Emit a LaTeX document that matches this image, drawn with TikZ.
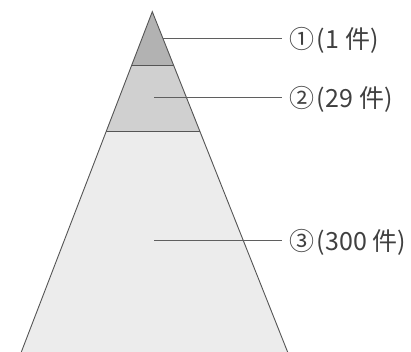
\documentclass[tikz,border=0pt]{standalone}
\usepackage{fontspec}
\newfontfamily\jp{Noto Sans CJK JP}
\definecolor{tierA}{RGB}{178,178,178}
\definecolor{tierB}{RGB}{208,208,208}
\definecolor{tierC}{RGB}{236,236,236}
\definecolor{edge}{RGB}{85,85,85}
\definecolor{lead}{RGB}{95,95,95}
\tikzset{
  tier/.style={draw=edge, line width=0.9pt},
  leader/.style={draw=lead, line width=0.8pt},
  lbl/.style={anchor=west, inner sep=0pt, font=\jp\fontsize{25}{25}\selectfont, text=black!75}
}
\begin{document}
\begin{tikzpicture}[x=1pt,y=-1pt]
\useasboundingbox (0,0) rectangle (411,351);
\clip (0,0) rectangle (411,351);
% pyramid tiers
\fill[tierC] (106.2,131) -- (200.2,131) -- (290,358) -- (19,358) -- cycle;
\fill[tierB] (131.7,65) -- (173.6,65) -- (200.2,131) -- (106.2,131) -- cycle;
\fill[tierA] (152.3,11.7) -- (173.6,65) -- (131.7,65) -- cycle;
\draw[tier] (131.7,65) -- (173.6,65);
\draw[tier] (106.2,131) -- (200.2,131);
\draw[tier] (19,358) -- (152.3,11.7) -- (290,358);
% labels
\node[lbl] (l1) at (289,40) {①\kern2pt(\kern1pt1 件)};
\node[lbl] (l2) at (289,99) {②\kern2pt(\kern1pt29 件)};
\node[lbl] (l3) at (289,242) {③\kern2pt(\kern1pt300 件)};
\coordinate (p1) at (163,38.5);
\coordinate (p2) at (154,97.5);
\coordinate (p3) at (154,240.5);
\coordinate (q1) at (282,38.5);
\coordinate (q2) at (282,97.5);
\coordinate (q3) at (282,240.5);
\draw[leader] (p1) -- (q1);
\draw[leader] (p2) -- (q2);
\draw[leader] (p3) -- (q3);
\end{tikzpicture}
\end{document}
